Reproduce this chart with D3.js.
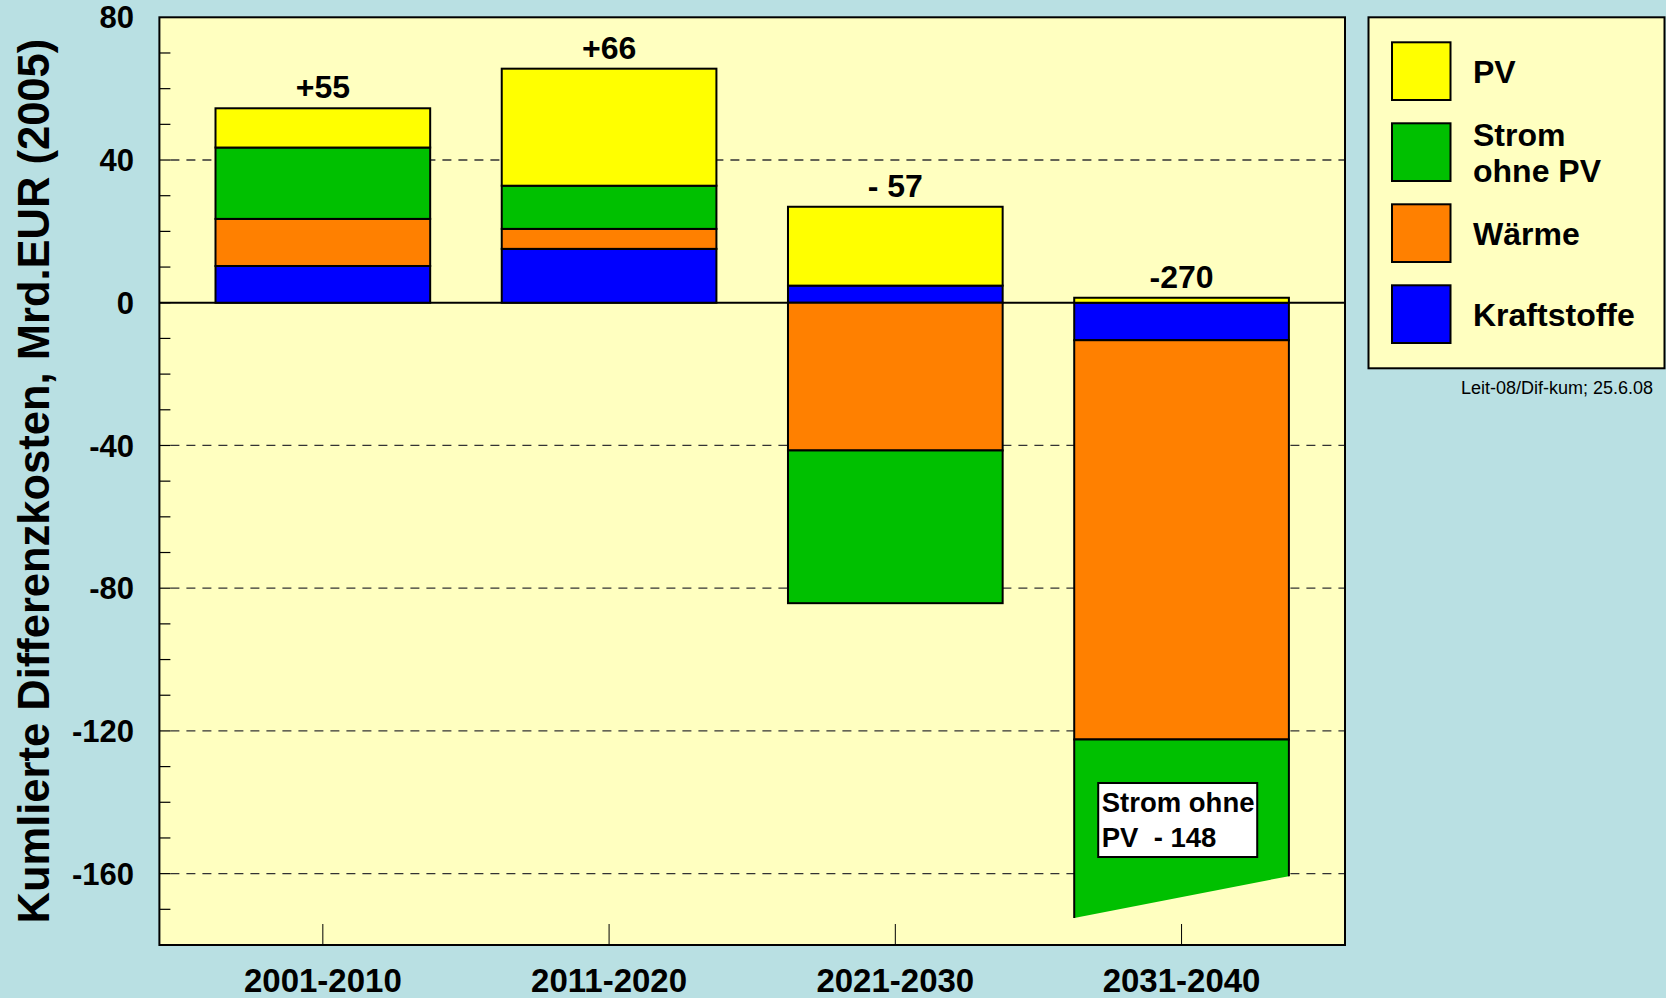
<html>
<head>
<meta charset="UTF-8" />
<script src="https://cdnjs.cloudflare.com/ajax/libs/d3/7.8.5/d3.min.js"></script>
<style>
  body { margin: 0; background: #b9e0e3; }
  svg { display: block; font-family: "Liberation Sans", Arial, sans-serif; font-weight: bold; }
</style>
</head>
<body>
<svg width="1666" height="998"></svg>
<script>
const periods = ["2001-2010", "2011-2020", "2021-2030", "2031-2040"];
const kraftstoffe = [10.3, 15.1, 4.8, -10.5];
const waerme = [13.2, 5.6, -41.4, -111.9];
const strom = [20.0, 12.1, -42.8, -148];
const pv = [11.0, 32.8, 22.1, 1.4];
const totalLabels = ["+55", "+66", "- 57", "-270"];
const seriesNames = ["Kraftstoffe", "Wärme", "Strom ohne PV", "PV"];
const seriesColors = ["#0000ff", "#ff8000", "#00c000", "#ffff00"];
const legendItems = [["PV"], ["Strom", "ohne PV"], ["Wärme"], ["Kraftstoffe"]];
const legendColors = ["#ffff00", "#00c000", "#ff8000", "#0000ff"];
const yTicks = [80, 40, 0, -40, -80, -120, -160];
// the Strom bar of the last period is cut off with a slanted bottom
const stromBreak = [-172.4, -160.7];
const annotation = ["Strom ohne", "PV  - 148"];

const svg = d3.select("svg");
const plotL = 159.4, plotR = 1345, plotT = 17.3, plotB = 945;

const x = d3.scalePoint().domain(periods).range([plotL, plotR]).padding(0.571);
const barW = x.step() * 0.75;
const y = d3.scaleLinear().domain([-180, 80]).range([plotB, plotT]);

const rows = periods.map((p, i) => ({
  period: p,
  "Kraftstoffe": kraftstoffe[i],
  "Wärme": waerme[i],
  "Strom ohne PV": strom[i],
  "PV": pv[i]
}));
const stacked = d3.stack().keys(seriesNames).offset(d3.stackOffsetDiverging)(rows);

// plot background
svg.append("rect")
  .attr("x", plotL).attr("y", plotT)
  .attr("width", plotR - plotL).attr("height", plotB - plotT)
  .style("fill", "#ffffc0");

// dashed grid
svg.selectAll(".grid")
  .data(yTicks.filter(d => d !== 0 && d !== 80))
  .enter().append("line")
  .attr("x1", plotL + 11).attr("x2", plotR)
  .attr("y1", d => y(d)).attr("y2", d => y(d))
  .style("stroke", "#333").style("stroke-width", 1.3)
  .style("stroke-dasharray", "9,7");

// minor ticks
svg.selectAll(".minor")
  .data(d3.range(-170, 80, 10))
  .enter().append("line")
  .attr("x1", plotL).attr("x2", plotL + 11)
  .attr("y1", d => y(d)).attr("y2", d => y(d))
  .style("stroke", "black").style("stroke-width", 1.2);

// zero line
svg.append("line")
  .attr("x1", plotL).attr("x2", plotR)
  .attr("y1", y(0)).attr("y2", y(0))
  .style("stroke", "black").style("stroke-width", 2);

// bars
const barsG = svg.append("g");
stacked.forEach((s, si) => {
  s.forEach((d, i) => {
    const x0 = x(periods[i]) - barW / 2;
    const isBroken = s.key === "Strom ohne PV" && i === periods.length - 1;
    if (isBroken) {
      const t = y(d[1]);
      barsG.append("path")
        .attr("d", `M${x0},${t}L${x0 + barW},${t}L${x0 + barW},${y(stromBreak[1])}L${x0},${y(stromBreak[0])}Z`)
        .style("fill", seriesColors[si]);
      barsG.append("path")
        .attr("d", `M${x0},${y(stromBreak[0])}L${x0},${t}L${x0 + barW},${t}L${x0 + barW},${y(stromBreak[1])}`)
        .style("fill", "none").style("stroke", "black").style("stroke-width", 2);
      return;
    }
    barsG.append("rect")
      .attr("x", x0)
      .attr("y", y(Math.max(d[0], d[1])))
      .attr("width", barW)
      .attr("height", Math.abs(y(d[0]) - y(d[1])))
      .style("fill", seriesColors[si])
      .style("stroke", "black").style("stroke-width", 2);
  });
});

// annotation box in the cut bar
const lastX = x(periods[3]) - barW / 2;
const annG = svg.append("g").attr("transform", `translate(${lastX + 24}, ${y(-134.6)})`);
annG.append("rect").attr("width", 159).attr("height", 74)
  .style("fill", "white").style("stroke", "black").style("stroke-width", 2);
annG.append("text")
  .style("font-size", "27.5px").style("white-space", "pre")
  .selectAll("tspan").data(annotation).enter().append("tspan")
  .attr("x", 3.5).attr("y", (d, i) => 28.5 + i * 35.5)
  .text(d => d);

// frame
svg.append("rect")
  .attr("x", plotL).attr("y", plotT)
  .attr("width", plotR - plotL).attr("height", plotB - plotT)
  .style("fill", "none").style("stroke", "black").style("stroke-width", 2);

// x ticks
svg.selectAll(".xtick")
  .data(periods)
  .enter().append("line")
  .attr("x1", d => x(d)).attr("x2", d => x(d))
  .attr("y1", plotB).attr("y2", plotB - 21)
  .style("stroke", "black").style("stroke-width", 1);

// total labels
svg.selectAll(".total")
  .data(periods)
  .enter().append("text")
  .attr("x", d => x(d))
  .attr("y", (d, i) => y(d3.max(stacked, s => s[i][1])) - 10)
  .attr("text-anchor", "middle")
  .style("font-size", "32px").style("white-space", "pre")
  .text((d, i) => totalLabels[i]);

// y tick labels
svg.selectAll(".ylab")
  .data(yTicks)
  .enter().append("text")
  .attr("x", 134).attr("y", d => y(d))
  .attr("dy", "0.36em")
  .attr("text-anchor", "end")
  .style("font-size", "31px")
  .text(d => d);

// x labels
svg.selectAll(".xlab")
  .data(periods)
  .enter().append("text")
  .attr("x", d => x(d)).attr("y", 991.5)
  .attr("text-anchor", "middle")
  .style("font-size", "33px")
  .text(d => d);

// y title
svg.append("text")
  .attr("transform", `translate(49, ${(plotT + plotB) / 2}) rotate(-90)`)
  .attr("text-anchor", "middle")
  .style("font-size", "43.5px")
  .text("Kumlierte Differenzkosten, Mrd.EUR (2005)");

// legend
svg.append("rect")
  .attr("x", 1368.5).attr("y", plotT)
  .attr("width", 296).attr("height", 351)
  .style("fill", "#ffffc0").style("stroke", "black").style("stroke-width", 2);

const leg = svg.selectAll(".leg")
  .data(legendItems)
  .enter().append("g")
  .attr("transform", (d, i) => `translate(1392, ${42.3 + i * 81})`);
leg.append("rect")
  .attr("width", 58.5).attr("height", 57.7)
  .style("fill", (d, i) => legendColors[i])
  .style("stroke", "black").style("stroke-width", 2);
leg.append("text")
  .style("font-size", "32px")
  .selectAll("tspan")
  .data(d => d.map((line, j) => ({ line, j, n: d.length })))
  .enter().append("tspan")
  .attr("x", 81)
  .attr("y", t => (t.n === 1 ? 41 : 22.5) + t.j * 36)
  .text(t => t.line);

// source note
svg.append("text")
  .attr("x", 1653).attr("y", 394)
  .attr("text-anchor", "end")
  .style("font-size", "18px").style("font-weight", "normal")
  .text("Leit-08/Dif-kum; 25.6.08");
</script>
</body>
</html>
